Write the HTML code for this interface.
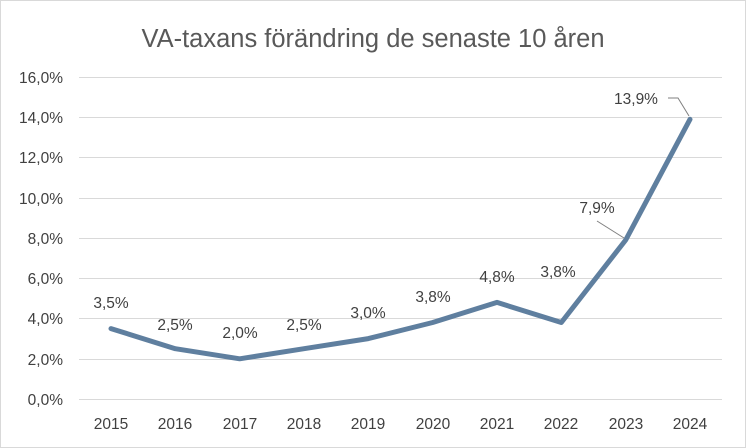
<!DOCTYPE html>
<html><head><meta charset="utf-8"><style>
body{margin:0;background:#fff}
svg{display:block;font-family:"Liberation Sans",sans-serif}
</style></head><body>
<svg width="746" height="448" viewBox="0 0 746 448">
<rect x="0.5" y="0.5" width="745" height="447" fill="#fff" stroke="#d9d9d9"/>
<text x="373" y="47" text-anchor="middle" font-size="25.5" fill="#595959">VA-taxans förändring de senaste 10 åren</text>
<g stroke="#d9d9d9" stroke-width="1">
<line x1="79" x2="722" y1="77.5" y2="77.5"/><line x1="79" x2="722" y1="117.5" y2="117.5"/>
<line x1="79" x2="722" y1="157.5" y2="157.5"/><line x1="79" x2="722" y1="198.5" y2="198.5"/>
<line x1="79" x2="722" y1="238.5" y2="238.5"/><line x1="79" x2="722" y1="278.5" y2="278.5"/>
<line x1="79" x2="722" y1="318.5" y2="318.5"/><line x1="79" x2="722" y1="359.5" y2="359.5"/>
<line x1="79" x2="722" y1="399.5" y2="399.5"/>
</g>
<g font-size="15.5" fill="#404040" text-anchor="end">
<text x="63" y="83">16,0%</text><text x="63" y="123">14,0%</text><text x="63" y="163">12,0%</text>
<text x="63" y="204">10,0%</text><text x="63" y="244">8,0%</text><text x="63" y="284">6,0%</text>
<text x="63" y="324">4,0%</text><text x="63" y="365">2,0%</text><text x="63" y="405">0,0%</text>
</g>
<g font-size="15.5" fill="#404040" text-anchor="middle">
<text x="111" y="429">2015</text><text x="175" y="429">2016</text><text x="240" y="429">2017</text>
<text x="304" y="429">2018</text><text x="368" y="429">2019</text><text x="433" y="429">2020</text>
<text x="497" y="429">2021</text><text x="561" y="429">2022</text><text x="626" y="429">2023</text>
<text x="690" y="429">2024</text>
</g>
<g stroke="#7f7f7f" stroke-width="1" fill="none">
<polyline points="668,98 678,98 689,116"/>
<line x1="597" y1="221" x2="624" y2="238"/>
</g>
<polyline fill="none" stroke="#5f7f9f" stroke-width="5" stroke-linejoin="round" stroke-linecap="round"
points="111,328.6 175.3,348.7 239.7,358.8 304,348.7 368.3,338.6 432.7,322.5 497,302.4 561.3,322.5 625.7,240 690,119.3"/>
<g font-size="15.5" fill="#404040" text-anchor="middle">
<text x="111" y="308">3,5%</text><text x="175" y="330">2,5%</text><text x="240" y="338">2,0%</text>
<text x="304" y="330">2,5%</text><text x="368" y="318">3,0%</text><text x="433" y="302">3,8%</text>
<text x="497" y="282">4,8%</text><text x="558" y="277">3,8%</text><text x="597" y="213">7,9%</text>
<text x="636" y="104">13,9%</text>
</g>
</svg>
</body></html>
